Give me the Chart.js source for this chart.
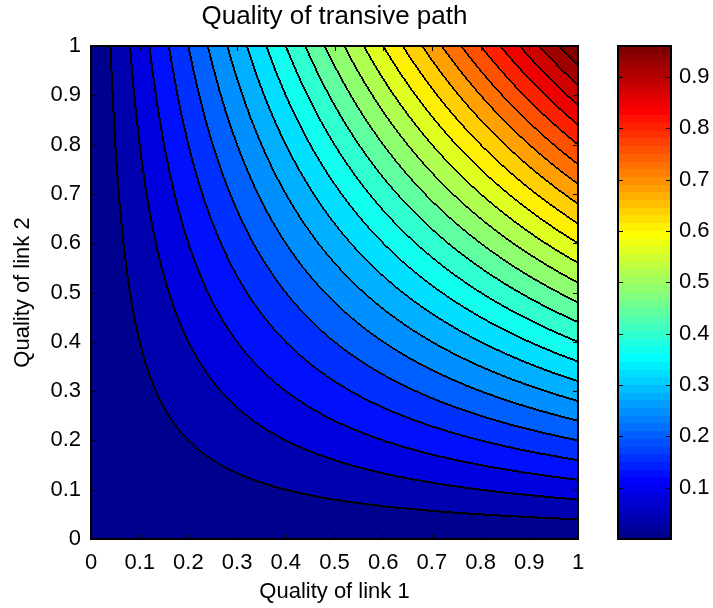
<!DOCTYPE html>
<html>
<head>
<meta charset="utf-8">
<script src="https://cdn.jsdelivr.net/npm/chart.js@4.4.0/dist/chart.umd.min.js"></script>
<style>
  body { margin: 0; background: #fff; }
  #wrap { position: relative; width: 713px; height: 608px; }
  #main { position: absolute; left: 0; top: 0; }
  #bar { position: absolute; left: 600px; top: 0; }
</style>
</head>
<body>
<div id="wrap">
  <canvas id="main" width="713" height="608"></canvas>
  <canvas id="bar" width="113" height="608"></canvas>
</div>
<script>
// surface sampled on the tick grid: zGrid[row for y][column for x]
const xGrid = [0, 0.1, 0.2, 0.3, 0.4, 0.5, 0.6, 0.7, 0.8, 0.9, 1];
const yGrid = [0, 0.1, 0.2, 0.3, 0.4, 0.5, 0.6, 0.7, 0.8, 0.9, 1];
const zGrid = [
  [0, 0, 0, 0, 0, 0, 0, 0, 0, 0, 0],
  [0, 0.01, 0.02, 0.03, 0.04, 0.05, 0.06, 0.07, 0.08, 0.09, 0.1],
  [0, 0.02, 0.04, 0.06, 0.08, 0.1, 0.12, 0.14, 0.16, 0.18, 0.2],
  [0, 0.03, 0.06, 0.09, 0.12, 0.15, 0.18, 0.21, 0.24, 0.27, 0.3],
  [0, 0.04, 0.08, 0.12, 0.16, 0.2, 0.24, 0.28, 0.32, 0.36, 0.4],
  [0, 0.05, 0.1, 0.15, 0.2, 0.25, 0.3, 0.35, 0.4, 0.45, 0.5],
  [0, 0.06, 0.12, 0.18, 0.24, 0.3, 0.36, 0.42, 0.48, 0.54, 0.6],
  [0, 0.07, 0.14, 0.21, 0.28, 0.35, 0.42, 0.49, 0.56, 0.63, 0.7],
  [0, 0.08, 0.16, 0.24, 0.32, 0.4, 0.48, 0.56, 0.64, 0.72, 0.8],
  [0, 0.09, 0.18, 0.27, 0.36, 0.45, 0.54, 0.63, 0.72, 0.81, 0.9],
  [0, 0.1, 0.2, 0.3, 0.4, 0.5, 0.6, 0.7, 0.8, 0.9, 1]
];
const levels = [0, 0.04, 0.08, 0.12, 0.16, 0.2, 0.24, 0.28, 0.32, 0.36, 0.4, 0.44,
  0.48, 0.52, 0.56, 0.6, 0.64, 0.68, 0.72, 0.76, 0.8, 0.84, 0.88, 0.92, 0.96];
const xTicks = [0, 0.1, 0.2, 0.3, 0.4, 0.5, 0.6, 0.7, 0.8, 0.9, 1];
const yTicks = [0, 0.1, 0.2, 0.3, 0.4, 0.5, 0.6, 0.7, 0.8, 0.9, 1];
const cbTicks = [0.1, 0.2, 0.3, 0.4, 0.5, 0.6, 0.7, 0.8, 0.9];
const cbRange = [0, 0.96];

Chart.defaults.font.family = '"Liberation Sans", Arial, sans-serif';
Chart.defaults.color = '#000';

// matlab jet(64)
function jet(i) {
  const row = i + 1;
  const u = k => k <= 16 ? k / 16 : (k <= 31 ? 1 : (48 - k) / 16);
  const ch = off => { const k = row - off; return (k >= 1 && k <= 47) ? u(k) : 0; };
  return [ch(24), ch(8), ch(-8)].map(v => Math.round(v * 255));
}
function colorIndex(v) {
  const t = (v - cbRange[0]) / (cbRange[1] - cbRange[0]) * 64 + 1e-9;
  return Math.min(63, Math.max(0, Math.floor(t)));
}

function findCell(grid, v) {
  let i = 0;
  while (i < grid.length - 2 && v > grid[i + 1]) i++;
  return i;
}
function surface(xv, yv) {
  xv = Math.min(Math.max(xv, xGrid[0]), xGrid[xGrid.length - 1]);
  yv = Math.min(Math.max(yv, yGrid[0]), yGrid[yGrid.length - 1]);
  const i = findCell(xGrid, xv), j = findCell(yGrid, yv);
  const tx = (xv - xGrid[i]) / (xGrid[i + 1] - xGrid[i]);
  const ty = (yv - yGrid[j]) / (yGrid[j + 1] - yGrid[j]);
  const a = zGrid[j][i], b = zGrid[j][i + 1], c = zGrid[j + 1][i], d = zGrid[j + 1][i + 1];
  return (a * (1 - tx) + b * tx) * (1 - ty) + (c * (1 - tx) + d * tx) * ty;
}
function bandOf(z) {
  let k = 0;
  while (k < levels.length - 1 && z >= levels[k + 1]) k++;
  return k;
}

const contourFill = {
  id: 'contourFill',
  beforeDatasetsDraw(chart) {
    const {ctx, chartArea: a, scales: {x, y}} = chart;
    const x0 = Math.round(a.left), y0 = Math.round(a.top);
    const w = Math.round(a.right) - x0, h = Math.round(a.bottom) - y0;
    // band index per pixel, with a one pixel margin all round
    const W = w + 2, H = h + 2;
    const band = new Int16Array(W * H);
    for (let r = 0; r < H; r++) {
      const yv = y.getValueForPixel(y0 + r - 0.5);
      for (let c = 0; c < W; c++) {
        band[r * W + c] = bandOf(surface(x.getValueForPixel(x0 + c - 0.5), yv));
      }
    }
    const bandColors = levels.map(v => jet(colorIndex(v)));
    const img = ctx.createImageData(w, h);
    for (let r = 0; r < h; r++) {
      for (let c = 0; c < w; c++) {
        const k = (r + 1) * W + c + 1;
        const b = band[k];
        // contour lines: pixels touching a level change on either side
        const edge = band[k + 1] !== b || band[k - 1] !== b || band[k - W] !== b || band[k + W] !== b;
        const col = edge ? [0, 0, 0] : bandColors[b];
        const p = (r * w + c) * 4;
        img.data[p] = col[0]; img.data[p + 1] = col[1]; img.data[p + 2] = col[2]; img.data[p + 3] = 255;
      }
    }
    ctx.putImageData(img, x0, y0);
  }
};

function drawFrame(chart, xs, ys) {
  const {ctx, chartArea: a} = chart;
  ctx.save();
  ctx.strokeStyle = '#000';
  ctx.lineWidth = 1;
  ctx.beginPath();
  if (xs) xs.ticks.forEach(t => {
    const px = Math.round(xs.getPixelForValue(t.value)) + 0.5;
    ctx.moveTo(px, a.bottom); ctx.lineTo(px, a.bottom - 5);
    ctx.moveTo(px, a.top); ctx.lineTo(px, a.top + 5);
  });
  ys.ticks.forEach(t => {
    const py = Math.round(ys.getPixelForValue(t.value)) + 0.5;
    ctx.moveTo(a.left, py); ctx.lineTo(a.left + 5, py);
    ctx.moveTo(a.right, py); ctx.lineTo(a.right - 5, py);
  });
  ctx.stroke();
  ctx.lineWidth = 2;
  ctx.strokeRect(a.left, a.top, a.right - a.left, a.bottom - a.top);
  ctx.restore();
}

new Chart(document.getElementById('main'), {
  type: 'scatter',
  data: { datasets: [{ data: [] }] },
  options: {
    responsive: false,
    animation: false,
    events: [],
    layout: { padding: { left: 0, right: 135, top: 0, bottom: 0 } },
    plugins: {
      legend: { display: false },
      tooltip: { enabled: false },
      title: {
        display: true,
        text: 'Quality of transive path',
        fullSize: false,
        font: { size: 26, weight: 'normal' },
        padding: { top: 1, bottom: 13.8 }
      }
    },
    scales: {
      x: {
        type: 'linear', min: 0, max: 1,
        afterBuildTicks: s => { s.ticks = xTicks.map(v => ({ value: v })); },
        afterFit: s => { s.height = 69; },
        grid: { display: false, drawTicks: false },
        border: { display: false },
        ticks: { font: { size: 22 }, padding: 11, autoSkip: false, maxRotation: 0, callback: v => String(v) },
        title: { display: true, text: 'Quality of link 1', font: { size: 22 }, padding: { top: 0, bottom: 3 } }
      },
      y: {
        type: 'linear', min: 0, max: 1,
        afterBuildTicks: s => { s.ticks = yTicks.map(v => ({ value: v })); },
        afterFit: s => { s.width = 91; },
        grid: { display: false, drawTicks: false },
        border: { display: false },
        ticks: { font: { size: 22 }, padding: 10, autoSkip: false, callback: v => String(v) },
        title: { display: true, text: 'Quality of link 2', font: { size: 22 }, padding: { top: 10, bottom: 0 } }
      }
    }
  },
  plugins: [contourFill, { id: 'frame', afterDraw: c => drawFrame(c, c.scales.x, c.scales.y) }]
});

const colorStripes = {
  id: 'colorStripes',
  beforeDatasetsDraw(chart) {
    const {ctx, chartArea: a, scales: {y}} = chart;
    const step = (cbRange[1] - cbRange[0]) / 64;
    for (let i = 0; i < 64; i++) {
      const top = Math.round(y.getPixelForValue(cbRange[0] + (i + 1) * step));
      const bot = Math.round(y.getPixelForValue(cbRange[0] + i * step));
      const c = jet(i);
      ctx.fillStyle = 'rgb(' + c.join(',') + ')';
      ctx.fillRect(a.left, top, a.right - a.left, bot - top);
    }
  }
};

new Chart(document.getElementById('bar'), {
  type: 'scatter',
  data: { datasets: [{ data: [] }] },
  options: {
    responsive: false,
    animation: false,
    events: [],
    layout: { padding: { left: 18, right: 0, top: 46, bottom: 69 } },
    plugins: { legend: { display: false }, tooltip: { enabled: false } },
    scales: {
      x: { type: 'linear', min: 0, max: 1, display: false },
      y: {
        type: 'linear', position: 'right', min: cbRange[0], max: cbRange[1],
        afterBuildTicks: s => { s.ticks = cbTicks.map(v => ({ value: v })); },
        afterFit: s => { s.width = 42; },
        grid: { display: false, drawTicks: false },
        border: { display: false },
        ticks: { font: { size: 22 }, padding: 8, autoSkip: false, callback: v => String(v) }
      }
    }
  },
  plugins: [colorStripes, { id: 'frame', afterDraw: c => drawFrame(c, null, c.scales.y) }]
});
</script>
</body>
</html>
